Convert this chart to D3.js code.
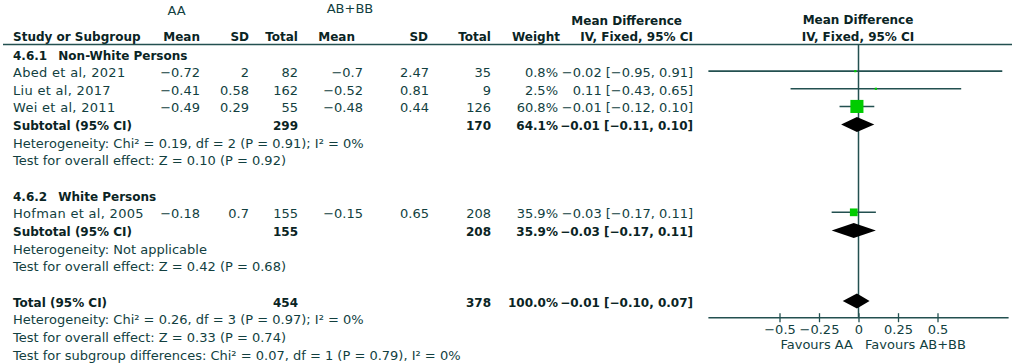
<!DOCTYPE html>
<html>
<head>
<meta charset="utf-8">
<script src="https://cdn.jsdelivr.net/npm/d3@7"></script>
<style>
  body { margin: 0; background: #fff; }
  text { font-family: "DejaVu Sans", sans-serif; font-size: 13px; fill: #123f3f; }
  .b { font-weight: bold; font-size: 12px; fill: #0a2424; }
  .study { font-size: 13px; letter-spacing: 0.3px; }
</style>
</head>
<body>
<script>
var w = 1017;
var h = 364;

// study rows
var studies = ["Abed et al, 2021", "Liu et al, 2017", "Wei et al, 2011", "Hofman et al, 2005"];
var studyRow = [1, 2, 3, 9];
var aaMean = [-0.72, -0.41, -0.49, -0.18];
var aaSD = [2, 0.58, 0.29, 0.7];
var aaN = [82, 162, 55, 155];
var abMean = [-0.7, -0.52, -0.48, -0.15];
var abSD = [2.47, 0.81, 0.44, 0.65];
var abN = [35, 9, 126, 208];
var weight = [0.8, 2.5, 60.8, 35.9];
var md = [-0.02, 0.11, -0.01, -0.03];
var lo = [-0.95, -0.43, -0.12, -0.17];
var hi = [0.91, 0.65, 0.10, 0.11];

// subgroups + total
var groupCodes = ["4.6.1", "4.6.2"];
var groupNames = ["Non-White Persons", "White Persons"];
var groupRow = [0, 8];
var sumLabels = ["Subtotal (95% CI)", "Subtotal (95% CI)", "Total (95% CI)"];
var sumRow = [4, 10, 14];
var sumAaN = [299, 155, 454];
var sumAbN = [170, 208, 378];
var sumWeight = [64.1, 35.9, 100.0];
var sumMd = [-0.01, -0.03, -0.01];
var sumLo = [-0.11, -0.17, -0.10];
var sumHi = [0.10, 0.11, 0.07];

var statLines = [
  "Heterogeneity: Chi\u00b2 = 0.19, df = 2 (P = 0.91); I\u00b2 = 0%",
  "Test for overall effect: Z = 0.10 (P = 0.92)",
  "Heterogeneity: Not applicable",
  "Test for overall effect: Z = 0.42 (P = 0.68)",
  "Heterogeneity: Chi\u00b2 = 0.26, df = 3 (P = 0.97); I\u00b2 = 0%",
  "Test for overall effect: Z = 0.33 (P = 0.74)",
  "Test for subgroup differences: Chi\u00b2 = 0.07, df = 1 (P = 0.79), I\u00b2 = 0%"
];
var statRow = [5, 6, 11, 12, 15, 16, 17];

var ticks = [-0.5, -0.25, 0, 0.25, 0.5];
var axisExtent = [-0.95, 0.95];

var lineCol = "#235050";
var green = "#00cc00";

var svg = d3.select("body").append("svg")
  .attr("width", w)
  .attr("height", h);

var yRow = d3.scaleLinear().domain([0, 17]).range([55, 355]);
var xScale = d3.scaleLinear().domain([-0.5, 0.5]).range([779.5, 937.5]);
var boxSize = d3.scaleLinear().domain([0, 100]).range([0, 21.5]);

function num(v) { return String(v).replace("-", "\u2212"); }
function f2(v) { return v.toFixed(2).replace("-", "\u2212"); }
function ci(m, l, u) { return f2(m) + " [" + f2(l) + ", " + f2(u) + "]"; }

function txt(x, y, s, anchor, cls) {
  return svg.append("text")
    .attr("x", x)
    .attr("y", y)
    .attr("text-anchor", anchor || "start")
    .attr("class", cls || null)
    .text(s);
}

// headers
txt(176.7, 14.5, "AA", "middle");
txt(350, 12.5, "AB+BB", "middle");
txt(682, 24.5, "Mean Difference", "end", "b");
txt(858, 24, "Mean Difference", "middle", "b");

var headY = 41;
txt(13, headY, "Study or Subgroup", "start", "b");
txt(200, headY, "Mean", "end", "b");
txt(249, headY, "SD", "end", "b");
txt(298, headY, "Total", "end", "b");
txt(355, headY, "Mean", "end", "b");
txt(428, headY, "SD", "end", "b");
txt(491, headY, "Total", "end", "b");
txt(560, headY, "Weight", "end", "b");
txt(693, headY, "IV, Fixed, 95% CI", "end", "b");
txt(858, headY, "IV, Fixed, 95% CI", "middle", "b");

svg.append("line")
  .attr("x1", 3).attr("x2", 1012)
  .attr("y1", 44.5).attr("y2", 44.5)
  .attr("stroke", lineCol).attr("stroke-width", 1.5);

// group headings
groupCodes.forEach(function(c, i) {
  var y = yRow(groupRow[i]) + 4.5;
  txt(13, y, c, "start", "b");
  txt(58.3, y, groupNames[i], "start", "b");
});

// study rows
studies.forEach(function(s, i) {
  var y = yRow(studyRow[i]) + 4.5;
  txt(13, y, s, "start", "study");
  txt(200, y, num(aaMean[i]), "end");
  txt(249, y, num(aaSD[i]), "end");
  txt(298, y, aaN[i], "end");
  txt(363, y, num(abMean[i]), "end");
  txt(429, y, num(abSD[i]), "end");
  txt(491, y, abN[i], "end");
  txt(558, y, weight[i].toFixed(1) + "%", "end");
  txt(693, y, ci(md[i], lo[i], hi[i]), "end");
});

// subtotal / total rows
sumLabels.forEach(function(s, i) {
  var y = yRow(sumRow[i]) + 4.5;
  txt(13, y, s, "start", "b");
  txt(298, y, sumAaN[i], "end", "b");
  txt(491, y, sumAbN[i], "end", "b");
  txt(558, y, sumWeight[i].toFixed(1) + "%", "end", "b");
  txt(693, y, ci(sumMd[i], sumLo[i], sumHi[i]), "end", "b");
});

statLines.forEach(function(s, i) {
  txt(13, yRow(statRow[i]) + 4.5, s);
});

// forest plot
var axisY = 317.7;

svg.append("line")
  .attr("x1", xScale(0)).attr("x2", xScale(0))
  .attr("y1", 44.5).attr("y2", axisY)
  .attr("stroke", lineCol).attr("stroke-width", 1.5);

var plot = svg.append("g");

plot.selectAll("line.ci")
  .data(studies)
  .enter()
  .append("line")
  .attr("class", "ci")
  .attr("x1", function(d, i) { return xScale(lo[i]); })
  .attr("x2", function(d, i) { return xScale(hi[i]); })
  .attr("y1", function(d, i) { return yRow(studyRow[i]) - 1.5; })
  .attr("y2", function(d, i) { return yRow(studyRow[i]) - 1.5; })
  .attr("stroke", lineCol)
  .attr("stroke-width", 1.6);

plot.selectAll("rect.box")
  .data(studies)
  .enter()
  .append("rect")
  .attr("class", "box")
  .attr("x", function(d, i) { return xScale(md[i]) - Math.max(2.2, boxSize(weight[i])) / 2; })
  .attr("y", function(d, i) { return yRow(studyRow[i]) - 1.5 - Math.max(2.2, boxSize(weight[i])) / 2; })
  .attr("width", function(d, i) { return Math.max(2.2, boxSize(weight[i])); })
  .attr("height", function(d, i) { return Math.max(2.2, boxSize(weight[i])); })
  .attr("fill", green);

plot.selectAll("path.diamond")
  .data(sumLabels)
  .enter()
  .append("path")
  .attr("class", "diamond")
  .attr("d", function(d, i) {
    var cy = yRow(sumRow[i]) - 1;
    return "M" + xScale(sumLo[i]) + "," + cy +
      "L" + xScale(sumMd[i]) + "," + (cy - 7.5) +
      "L" + xScale(sumHi[i]) + "," + cy +
      "L" + xScale(sumMd[i]) + "," + (cy + 7.5) + "Z";
  })
  .attr("fill", "#000");

// axis
svg.append("line")
  .attr("x1", xScale(axisExtent[0])).attr("x2", xScale(axisExtent[1]))
  .attr("y1", axisY).attr("y2", axisY)
  .attr("stroke", lineCol).attr("stroke-width", 1.6);

var xAxis = d3.axisBottom(xScale)
  .tickValues(ticks)
  .tickSize(0)
  .tickFormat(function(d) { return d === 0 ? "0" : String(d).replace("-", "\u2212"); });

var ax = svg.append("g")
  .attr("transform", "translate(0," + axisY + ")")
  .call(xAxis);

ax.select(".domain").remove();
ax.selectAll(".tick line")
  .attr("y1", -4.5).attr("y2", 4.5)
  .attr("stroke", lineCol).attr("stroke-width", 1.3);
ax.selectAll(".tick text")
  .attr("y", 7)
  .attr("font-family", "DejaVu Sans")
  .attr("font-size", 13)
  .attr("fill", "#123f3f");

txt(853, 349, "Favours AA", "end");
txt(865, 349, "Favours AB+BB", "start");
</script>
</body>
</html>
